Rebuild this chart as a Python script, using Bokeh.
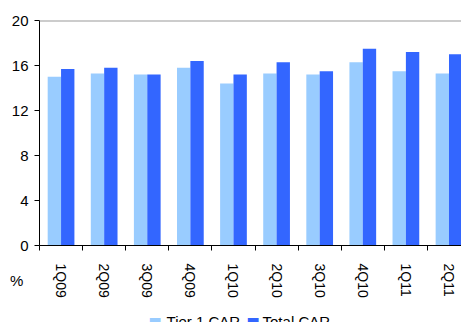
import math
from bokeh.plotting import figure
from bokeh.models import (Range1d, FixedTicker, Span, Label, ColumnDataSource)
from bokeh.transform import dodge
from bokeh.embed import file_html
from bokeh.resources import INLINE

quarters = ["1Q09", "2Q09", "3Q09", "4Q09", "1Q10", "2Q10", "3Q10", "4Q10", "1Q11", "2Q11"]
tier1 = [15.0, 15.3, 15.2, 15.8, 14.4, 15.3, 15.2, 16.3, 15.5, 15.3]
total = [15.7, 15.8, 15.2, 16.4, 15.2, 16.3, 15.5, 17.5, 17.2, 17.0]
y_ticks = [0, 4, 8, 12, 16, 20]
series_names = ["Tier 1 CAR", "Total CAR"]
series_colors = ["#99CCFF", "#3366FF"]

FONT = "Liberation Sans"
centers = [i + 0.5 for i in range(len(quarters))]
bounds = [i for i in range(len(quarters) + 1)]

src = ColumnDataSource(dict(x=centers, q=quarters, t1=tier1, tot=total))

p = figure(frame_width=422, frame_height=225, output_backend="svg", toolbar_location=None,
           x_range=Range1d(0, 9.79), y_range=Range1d(0, 20),
           min_border_left=39, min_border_right=0, min_border_top=20,
           min_border_bottom=0)
p.outline_line_color = None
p.xgrid.visible = False
p.ygrid.visible = False

w = 0.31
r1 = p.vbar(x=dodge("x", -w / 2), top="t1", width=w, bottom=0, source=src,
            fill_color=series_colors[0], line_color=None)
r2 = p.vbar(x=dodge("x", w / 2), top="tot", width=w, bottom=0, source=src,
            fill_color=series_colors[1], line_color=None)

p.add_layout(Span(location=20, dimension="width", line_color="#999999", line_width=2))

# x axis
xa = p.xaxis[0]
xa.ticker = FixedTicker(ticks=centers, minor_ticks=bounds)
xa.major_label_overrides = {c: q for c, q in zip(centers, quarters)}
xa.major_label_orientation = -math.pi / 2
xa.major_tick_out = 0
xa.major_tick_in = 0
xa.minor_tick_out = 5
xa.minor_tick_in = 0
xa.major_label_standoff = 13
xa.major_label_text_font = FONT
xa.major_label_text_font_size = "14px"
xa.major_label_text_color = "black"
xa.axis_line_color = "black"
xa.minor_tick_line_color = "black"

ya = p.yaxis[0]
ya.ticker = FixedTicker(ticks=y_ticks, minor_ticks=[])
ya.major_tick_out = 5
ya.major_tick_in = 0
ya.minor_tick_out = 0
ya.major_label_standoff = 6
ya.major_label_text_font = FONT
ya.major_label_text_font_size = "15px"
ya.major_label_text_color = "black"
ya.axis_line_color = "black"
ya.major_tick_line_color = "black"

p.add_layout(Label(x=-0.53, y=-3.1, text="%", text_align="center",
                   text_baseline="middle", text_font=FONT, text_font_size="15px",
                   text_color="black"), "below")

# legend drawn as unclipped labels below the chart
key_x = [2.529, 4.803]
text_x = [2.947, 5.174]
leg_y = -6.76
for kx, tx, name, col in zip(key_x, text_x, series_names, series_colors):
    p.add_layout(Label(x=kx, y=leg_y, text="\u25A0", text_align="left",
                       text_baseline="alphabetic", text_font="DejaVu Sans",
                       text_font_size="14px", text_color=col), "below")
    p.add_layout(Label(x=tx, y=leg_y, text=name, text_align="left",
                       text_baseline="alphabetic", text_font=FONT,
                       text_font_size="15px", text_color="black"), "below")

open("out.html", "w").write(file_html(p, INLINE))
